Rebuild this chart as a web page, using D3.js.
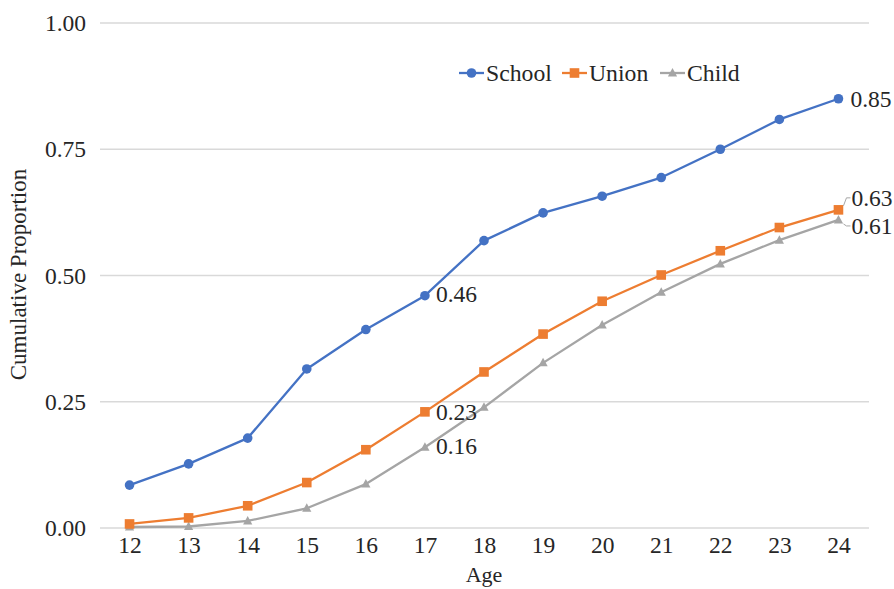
<!DOCTYPE html>
<html>
<head>
<meta charset="utf-8">
<script src="https://cdn.jsdelivr.net/npm/d3@7"></script>
</head>
<body style="margin:0;padding:0;background:#fff">
<svg id="chart" width="894" height="589" font-family="Liberation Serif"></svg>
<script>
// Cumulative proportion by age for three transitions
const ages = [12, 13, 14, 15, 16, 17, 18, 19, 20, 21, 22, 23, 24];
const school = [0.085, 0.127, 0.178, 0.315, 0.393, 0.46, 0.569, 0.624, 0.657, 0.694, 0.75, 0.809, 0.85];
const union  = [0.008, 0.020, 0.044, 0.090, 0.155, 0.23, 0.309, 0.384, 0.449, 0.501, 0.549, 0.595, 0.63];
const child  = [0.002, 0.003, 0.014, 0.039, 0.087, 0.16, 0.239, 0.327, 0.402, 0.467, 0.523, 0.570, 0.61];
const yTicks = [0, 0.25, 0.5, 0.75, 1.0];
const seriesNames = ["School", "Union", "Child"];
const seriesColors = ["#4472C4", "#ED7D31", "#A5A5A5"];
// value labels: series index, age index
const labelled = [[0, 5], [1, 5], [2, 5], [0, 12], [1, 12], [2, 12]];

const FONT = "Liberation Serif";
const TEXT = "#262626";

const series = [school, union, child].map((vals, i) => ({
  name: seriesNames[i], color: seriesColors[i], values: vals
}));

const svg = d3.select("#chart");
const plotLeft = 100, plotRight = 868, plotTop = 23, plotBottom = 528;

const x = d3.scalePoint().domain(ages).range([plotLeft, plotRight]).padding(0.5);
const y = d3.scaleLinear().domain([0, 1]).range([plotBottom, plotTop]);

// horizontal gridlines
svg.append("g").selectAll("line").data(yTicks).join("line")
  .attr("x1", plotLeft).attr("x2", plotRight + 1)
  .attr("y1", d => y(d)).attr("y2", d => y(d))
  .attr("stroke", "#d9d9d9").attr("stroke-width", 1.3);

// y axis labels
const yAxis = svg.append("g").attr("transform", `translate(${plotLeft},0)`)
  .call(d3.axisLeft(y).tickValues(yTicks).tickFormat(d3.format(".2f")).tickSize(0).tickPadding(14));
yAxis.attr("font-family", FONT);
yAxis.select(".domain").remove();
yAxis.selectAll("text").attr("font-size", 23.5).attr("fill", TEXT).attr("font-family", FONT);

// x axis labels
const xAxis = svg.append("g").attr("transform", `translate(0,${plotBottom})`)
  .call(d3.axisBottom(x).tickSize(0).tickPadding(8));
xAxis.attr("font-family", FONT);
xAxis.select(".domain").remove();
xAxis.selectAll("text").attr("font-size", 23.5).attr("fill", TEXT).attr("font-family", FONT);

// axis titles
svg.append("text").attr("x", x(18)).attr("y", 582).attr("text-anchor", "middle")
  .attr("font-family", FONT).attr("fill", TEXT).attr("font-size", 22).text("Age");
svg.append("text").attr("transform", `translate(26,${(plotTop + plotBottom) / 2 - 1}) rotate(-90)`)
  .attr("text-anchor", "middle").attr("font-family", FONT).attr("fill", TEXT)
  .attr("font-size", 23).text("Cumulative Proportion");

const line = d3.line().x((d, i) => x(ages[i])).y(d => y(d));

function drawMarker(g, idx, cx, cy, color) {
  if (idx === 0) {
    g.append("circle").attr("cx", cx).attr("cy", cy).attr("r", 4.8).attr("fill", color);
  } else if (idx === 1) {
    g.append("rect").attr("x", cx - 4.8).attr("y", cy - 4.8).attr("width", 9.6).attr("height", 9.6).attr("fill", color);
  } else {
    g.append("path").attr("transform", `translate(${cx},${cy})`)
      .attr("d", "M0,-5L4.6,3.5L-4.6,3.5Z").attr("fill", color);
  }
}

// series lines & markers (drawn back to front)
[2, 1, 0].forEach(si => {
  const s = series[si];
  const g = svg.append("g");
  g.append("path").datum(s.values).attr("d", line)
    .attr("fill", "none").attr("stroke", s.color).attr("stroke-width", 2.3)
    .attr("stroke-linejoin", "round");
  s.values.forEach((v, i) => drawMarker(g, si, x(ages[i]), y(v), s.color));
});

// value labels
const labelOffsets = {
  "0,5": [11, -1.5], "1,5": [11, 0], "2,5": [11, -1.5],
  "0,12": [12, 0], "1,12": [13, -12], "2,12": [13, 6]
};
labelled.forEach(([si, ai]) => {
  const v = series[si].values[ai];
  const px = x(ages[ai]), py = y(v);
  const [dx, dy] = labelOffsets[si + "," + ai];
  svg.append("text").attr("x", px + dx).attr("y", py + dy).attr("dy", "0.35em")
    .attr("font-family", FONT).attr("fill", TEXT)
    .attr("font-size", 23.5).text(d3.format(".2f")(v));
});

// leader lines for the crowded end labels
[[1, 12, -12], [2, 12, 6]].forEach(([si, ai, dy]) => {
  const px = x(ages[ai]), py = y(series[si].values[ai]);
  const ly = py + dy;
  svg.append("path")
    .attr("d", `M${px + 12},${ly} L${px + 8},${ly} L${px + 5},${py + (dy < 0 ? -4 : 4)}`)
    .attr("fill", "none").attr("stroke", "#a6a6a6").attr("stroke-width", 1);
});

// legend
const legend = svg.append("g").attr("transform", "translate(0,73)");
const legendX = [459, 562, 660];
series.forEach((s, i) => {
  const g = legend.append("g").attr("transform", `translate(${legendX[i]},0)`);
  g.append("line").attr("x1", 0).attr("x2", 25).attr("stroke", s.color).attr("stroke-width", 2.3);
  drawMarker(g, i, 12.5, 0, s.color);
  g.append("text").attr("x", 27).attr("dy", "0.35em").attr("font-family", FONT).attr("fill", TEXT)
    .attr("font-size", 23.7).text(s.name);
});
</script>
</body>
</html>
